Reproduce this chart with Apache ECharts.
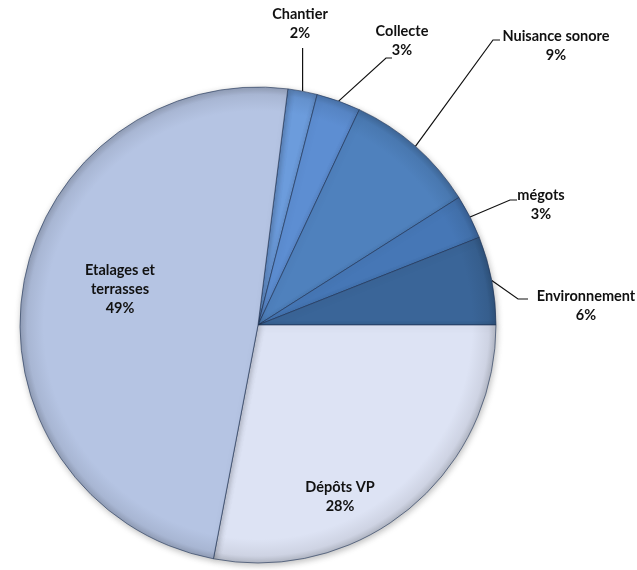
<!DOCTYPE html>
<html>
<head>
<meta charset="utf-8">
<script src="https://cdn.jsdelivr.net/npm/echarts@6/dist/echarts.min.js"></script>
<style>
  html, body { margin: 0; padding: 0; background: #ffffff; }
  #chart { width: 637px; height: 570px; }
</style>
</head>
<body>
<div id="chart"></div>
<script>
// ---- data ----
const categories = ['Chantier', 'Collecte', 'Nuisance sonore', 'mégots', 'Environnement', 'Dépôts VP', 'Etalages et terrasses'];
const labelNames = ['Chantier', 'Collecte', 'Nuisance sonore', 'mégots', 'Environnement', 'Dépôts VP', 'Etalages et\nterrasses'];
const values = [2, 3, 9, 3, 6, 28, 49];

// ---- styles ----
const colors = ['#6c9cdc', '#5d8ed2', '#4f81bd', '#4677b6', '#3a6598', '#dde3f4', '#b5c4e3'];
const CX = 258, CY = 325, R = 238;

function shade(hex, f) {
  const n = parseInt(hex.slice(1), 16);
  const r = Math.round(((n >> 16) & 255) * f), g = Math.round(((n >> 8) & 255) * f), b = Math.round((n & 255) * f);
  return 'rgb(' + r + ',' + g + ',' + b + ')';
}

// label placement (page pixels): label block centre + leader-line bend/end
const labelSpec = {
  'Chantier':             { x: 300, y: 24,  bend: [null, 48], end: [null, 48] },
  'Collecte':             { x: 402, y: 41,  bend: [386, 58],  end: [392, 58] },
  'Nuisance sonore':      { x: 556, y: 46,  bend: [493, 40],  end: [500, 40] },
  'mégots':               { x: 541, y: 205, bend: [510, 200], end: [517, 200] },
  'Environnement':        { x: 586, y: 306, bend: [518, 299], end: [528, 299] },
  'Dépôts VP':            { x: 340, y: 497, inside: true },
  'Etalages et terrasses':{ x: 120, y: 289, inside: true }
};

const seriesData = categories.map(function (c, i) {
  const spec = labelSpec[c];
  return {
    name: c,
    value: values[i],
    itemStyle: {
      color: {
        type: 'radial', x: CX, y: CY, r: R, global: true,
        colorStops: [
          { offset: 0, color: colors[i] },
          { offset: 0.9, color: colors[i] },
          { offset: 0.97, color: shade(colors[i], 0.93) },
          { offset: 1, color: shade(colors[i], 0.8) }
        ]
      }
    },
    label: { position: spec.inside ? 'inside' : 'outside' },
    labelLine: { show: !spec.inside }
  };
});

const chart = echarts.init(document.getElementById('chart'), null, { renderer: 'canvas' });
chart.setOption({
  backgroundColor: '#ffffff',
  animation: false,
  series: [{
    type: 'pie',
    center: [CX, CY],
    radius: [0, R],
    startAngle: 82.8,
    clockwise: true,
    avoidLabelOverlap: false,
    data: seriesData,
    itemStyle: {
      borderColor: 'rgba(30,50,85,0.6)',
      borderWidth: 1,
      shadowBlur: 6,
      shadowColor: 'rgba(0,0,0,0.25)',
      shadowOffsetX: 1,
      shadowOffsetY: 2
    },
    label: {
      show: true,
      formatter: function (p) { return labelNames[p.dataIndex] + '\n' + p.value + '%'; },
      fontFamily: 'Lato, "Open Sans", sans-serif',
      fontWeight: 'bold',
      fontSize: 14.5,
      lineHeight: 19,
      color: '#111111',
      align: 'center'
    },
    labelLine: {
      show: true,
      length: 20,
      length2: 8,
      lineStyle: { color: '#111111', width: 1.2 }
    },
    labelLayout: function (params) {
      const name = categories[params.dataIndex];
      const spec = labelSpec[name];
      const out = { x: spec.x, y: spec.y, align: 'center', verticalAlign: 'middle', moveOverlap: false };
      if (!spec.inside) {
        let a = params.labelLinePoints && params.labelLinePoints[0];
        if (!a) {
          const total = values.reduce(function (s, v) { return s + v; }, 0);
          let cum = 0;
          for (let k = 0; k < params.dataIndex; k++) cum += values[k];
          const midDeg = (90 - 82.8) + (cum + values[params.dataIndex] / 2) / total * 360;
          const rad = midDeg * Math.PI / 180;
          a = [CX + R * Math.sin(rad), CY - R * Math.cos(rad)];
        }
        const bend = [spec.bend[0] === null ? a[0] : spec.bend[0], spec.bend[1]];
        const end = [spec.end[0] === null ? a[0] : spec.end[0], spec.end[1]];
        out.labelLinePoints = [a, bend, end];
      }
      return out;
    }
  }]
});
</script>
</body>
</html>
